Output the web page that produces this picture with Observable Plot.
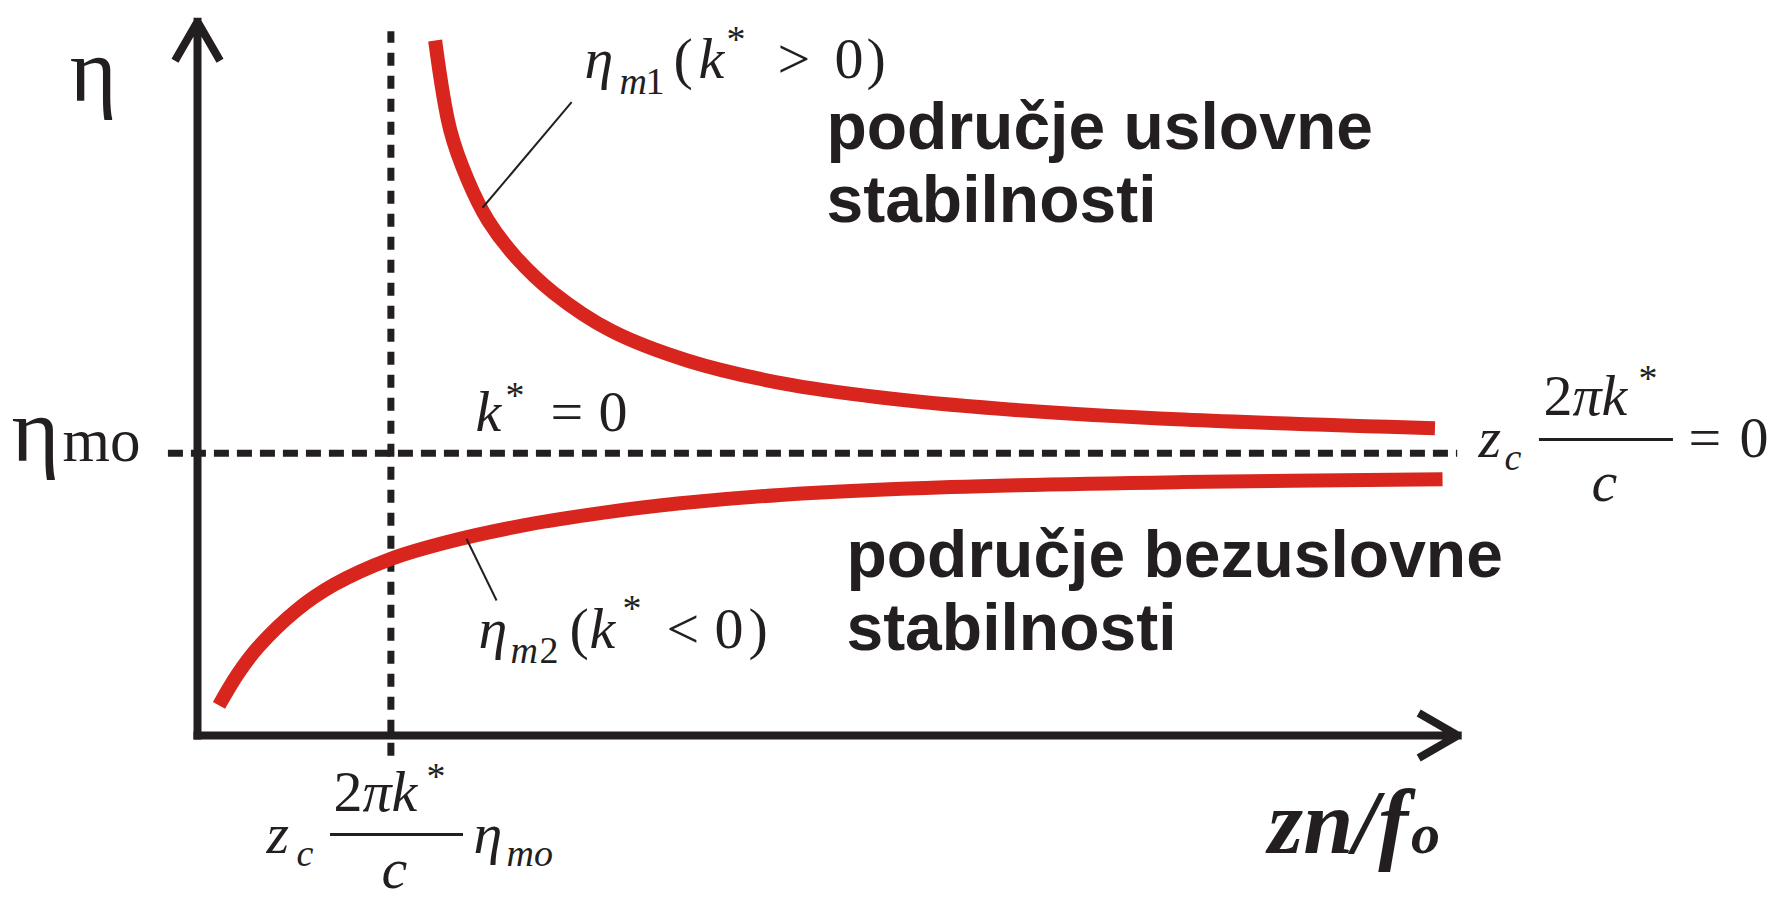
<!DOCTYPE html>
<html>
<head>
<meta charset="utf-8">
<script src="https://cdn.jsdelivr.net/npm/d3@7"></script>
<script src="https://cdn.jsdelivr.net/npm/@observablehq/plot@0.6"></script>
<style>
  html, body { margin: 0; padding: 0; background: #fff; }
</style>
</head>
<body>
<div id="chart"></div>
<script>
// η_m1 branch (k* > 0): drops from the top and levels off just above η_mo
const upperX = [1.88, 2.00, 2.14, 2.30, 2.52, 2.82, 3.27, 3.88, 4.64, 5.39, 6.35, 7.80, 9.79];
const upperY = [9.68, 8.43, 7.73, 7.17, 6.66, 6.16, 5.64, 5.22, 4.90, 4.71, 4.55, 4.40, 4.28];

// η_m2 branch (k* < 0): rises from near the origin towards η_mo from below
const lowerX = [0.17, 0.32, 0.48, 0.78, 1.08, 1.53, 1.99, 2.59, 3.20, 3.80, 4.61, 5.96, 7.80, 9.85];
const lowerY = [0.42, 0.86, 1.23, 1.74, 2.10, 2.46, 2.70, 2.93, 3.10, 3.23, 3.35, 3.46, 3.53, 3.57];

// asymptote k* = 0 and the critical abscissa z_c·2πk*/c·η_mo
const etaMo = 3.93;
const xCrit = 1.53;

// texts
const regionUpper = ["područje uslovne", "stabilnosti"];
const regionLower = ["područje bezuslovne", "stabilnosti"];
const yAxisLabel = "η";
const xAxisLabel = ["zn/f", "o"];
const etaMoLabel = ["η", "mo"];

const upper = upperX.map((x, i) => ({x, y: upperY[i]}));
const lower = lowerX.map((x, i) => ({x, y: lowerY[i]}));

const W = 1783, H = 899;
const M = {top: 17, right: 322, bottom: 164, left: 197};
const pxX = (W - M.left - M.right) / 10;   // pixels per x unit
const INK = "#231f20";
const RED = "#d8261e";
const SERIF = "'Liberation Serif','Times New Roman',serif";
const SANS = "'Liberation Sans',Arial,sans-serif";

// A formula is a list of glyph runs placed relative to a baseline anchor:
// [text, dx, dy, fontSize, italic]
function formula(x, y, runs) {
  return runs.map(([t, dx, dy, size, italic]) =>
    Plot.text([{x, y, t}], {
      x: "x", y: "y", text: "t", dx, dy,
      fontSize: size, fontStyle: italic ? "italic" : "normal",
      fontFamily: SERIF, textAnchor: "start", lineAnchor: "bottom", fill: INK
    }));
}
function fractionBar(x, y, from, to, dy) {
  return Plot.ruleY([y], {x1: x + from / pxX, x2: x + to / pxX, dy, stroke: INK, strokeWidth: 3});
}
function words(x, y, t) {
  return Plot.text([{x, y, t}], {
    x: "x", y: "y", text: "t", fontSize: 66, fontWeight: "bold",
    fontFamily: SANS, textAnchor: "start", lineAnchor: "bottom", fill: INK
  });
}

const eta1 = [["η",0,0,58,1],["m",35,16,38,1],["1",61,16,38,0],["(",89,0,58,0],["k",114,0,58,1],
              ["*",142,-26,38,0],[">",193,0,58,0],["0",250,0,58,0],[")",282,0,58,0]];
const kZero = [["k",0,0,58,1],["*",30,-23,38,0],["=",75,0,58,0],["0",123,0,58,0]];
const eta2 = [["η",0,0,58,1],["m",32,15,38,1],["2",61,15,38,0],["(",91,0,58,0],["k",111,0,58,1],
              ["*",144,-27,38,0],["<",188,0,58,0],["0",236,0,58,0],[")",270,0,58,0]];
const critX = [["z",0,0,58,1],["c",30,13,38,1],["2",67,-42,58,0],["π",96,-42,58,1],["k",125,-42,58,1],
               ["*",160,-64,38,0],["c",115,35,58,1],["η",207,0,58,1],["mo",240,13,38,1]];
const asym = [["z",0,0,58,1],["c",26,13,38,1],["2",65,-42,58,0],["π",94,-42,58,1],["k",123,-42,58,1],
              ["*",160,-66,38,0],["c",113,44,58,1],["=",210,0,58,0],["0",261,0,58,0]];

const chart = Plot.plot({
  width: W,
  height: H,
  marginTop: M.top,
  marginRight: M.right,
  marginBottom: M.bottom,
  marginLeft: M.left,
  x: {domain: [0, 10], axis: null},
  y: {domain: [0, 10], axis: null},
  style: {background: "#fff", overflow: "visible"},
  marks: [
    // dashed guides
    Plot.ruleY([etaMo], {x1: -0.23, x2: 9.97, stroke: INK, strokeWidth: 7, strokeDasharray: "15,8"}),
    Plot.ruleX([xCrit], {y1: -0.29, y2: 9.8, stroke: INK, strokeWidth: 7, strokeDasharray: "13,10"}),

    // axes drawn as arrows from the origin
    Plot.arrow([{x1: 0, y1: 0, x2: 0, y2: 9.94}, {x1: 0, y1: 0, x2: 9.97, y2: 0}], {
      x1: "x1", y1: "y1", x2: "x2", y2: "y2",
      stroke: INK, strokeWidth: 8, headLength: 7.7, headAngle: 60,
      strokeLinecap: "square", strokeLinejoin: "miter"
    }),

    // the two branches
    Plot.line(upper, {x: "x", y: "y", curve: "catmull-rom", stroke: RED, strokeWidth: 14, strokeLinecap: "butt"}),
    Plot.line(lower, {x: "x", y: "y", curve: "catmull-rom", stroke: RED, strokeWidth: 14, strokeLinecap: "butt"}),

    // leaders from the branch labels
    Plot.link([{x1: 2.255, y1: 7.35, x2: 2.96, y2: 8.82}, {x1: 2.128, y1: 2.74, x2: 2.366, y2: 1.88}], {
      x1: "x1", y1: "y1", x2: "x2", y2: "y2", stroke: INK, strokeWidth: 2
    }),

    // axis labels
    Plot.text([yAxisLabel], {x: -1.01, y: 8.844, text: d => d, fontSize: 90, fontFamily: SERIF,
      textAnchor: "start", lineAnchor: "bottom", fill: INK}),
    Plot.text([etaMoLabel[0]], {x: -1.472, y: etaMo, dy: 8, text: d => d, fontSize: 92, fontFamily: SERIF,
      textAnchor: "start", lineAnchor: "bottom", fill: INK}),
    Plot.text([etaMoLabel[1]], {x: -1.472, y: etaMo, dx: 51, dy: 8, text: d => d, fontSize: 61, fontFamily: SERIF,
      textAnchor: "start", lineAnchor: "bottom", fill: INK}),
    Plot.text([xAxisLabel[0]], {x: 8.47, y: -1.643, text: d => d, fontSize: 90, fontFamily: SERIF,
      fontStyle: "italic", fontWeight: "bold", textAnchor: "start", lineAnchor: "bottom", fill: INK}),
    Plot.text([xAxisLabel[1]], {x: 8.47, y: -1.643, dx: 143, text: d => d, fontSize: 58, fontFamily: SERIF,
      fontStyle: "italic", fontWeight: "bold", textAnchor: "start", lineAnchor: "bottom", fill: INK}),

    // region descriptions
    words(4.976, 8.175, regionUpper[0]),
    words(4.976, 7.145, regionUpper[1]),
    words(5.134, 2.201, regionLower[0]),
    words(5.134, 1.184, regionLower[1]),

    // formulas
    ...formula(3.062, 9.164, eta1),
    ...formula(2.200, 4.234, kZero),
    ...formula(2.223, 1.212, eta2),
    ...formula(0.546, -1.630, critX),
    fractionBar(0.546, -1.630, 64, 197, -18),
    ...formula(10.134, 3.872, asym),
    fractionBar(10.134, 3.872, 61, 195, -18)
  ]
});

document.getElementById("chart").appendChild(chart);
</script>
</body>
</html>
